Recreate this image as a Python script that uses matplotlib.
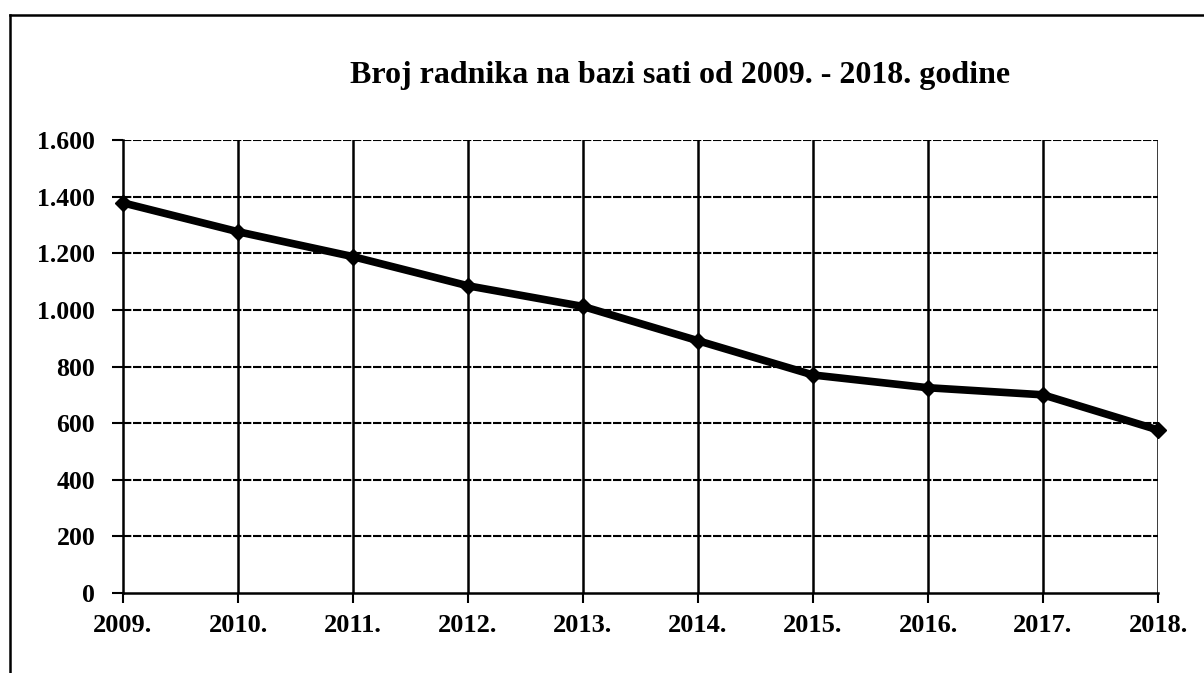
import matplotlib
matplotlib.use("Agg")
import matplotlib.pyplot as plt
from matplotlib.lines import Line2D

years = ["2009.", "2010.", "2011.", "2012.", "2013.", "2014.", "2015.", "2016.", "2017.", "2018."]
workers = [1378, 1276, 1188, 1085, 1012, 891, 770, 725, 700, 576]
y_ticks = [0, 200, 400, 600, 800, 1000, 1200, 1400, 1600]
y_tick_labels = ["0", "200", "400", "600", "800", "1.000", "1.200", "1.400", "1.600"]
title = "Broj radnika na bazi sati od 2009. - 2018. godine"

plt.rcParams['font.family'] = ['Liberation Serif', 'DejaVu Serif']

fig = plt.figure(figsize=(12.04, 6.73), dpi=100)
ax = fig.add_axes([123/1204, 1-593/673, (1158-123)/1204, (593-140)/673])

x = list(range(len(years)))
ax.plot(x, workers, color='black', lw=5.5, marker='D', markersize=8,
        markerfacecolor='black', markeredgecolor='black', zorder=5, clip_on=False)

ax.set_xlim(0, len(years)-1)
ax.set_ylim(0, 1600)
ax.set_xticks(x)
ax.set_xticklabels(years, fontsize=19, fontweight='bold')
ax.set_yticks(y_ticks)
ax.set_yticklabels(y_tick_labels, fontsize=18.5, fontweight='bold')
ax.tick_params(axis='x', direction='out', length=7, width=1.5, pad=8)
ax.tick_params(axis='y', direction='out', length=8, width=1.5, pad=12)

for v in y_ticks[1:]:
    ax.axhline(v, color='black', lw=1.5, ls=(0, (4, 0.8)), zorder=1)
for xi in x[1:]:
    ax.axvline(xi, color='black', lw=1.8, zorder=2)

for s in ['top', 'right']:
    ax.spines[s].set_visible(False)
ax.spines['left'].set_linewidth(1.8)
ax.spines['bottom'].set_linewidth(1.8)

fig.text(680/1204, 1-75/673, title, ha='center', va='center',
         fontsize=23, fontweight='bold')

# figure border
fig.add_artist(Line2D([10/1204, 1.0], [1-15/673, 1-15/673], transform=fig.transFigure,
                      color='black', lw=1.8))
fig.add_artist(Line2D([10/1204, 10/1204], [0, 1-15/673], transform=fig.transFigure,
                      color='black', lw=1.8))

fig.savefig("out.png", dpi=100)
